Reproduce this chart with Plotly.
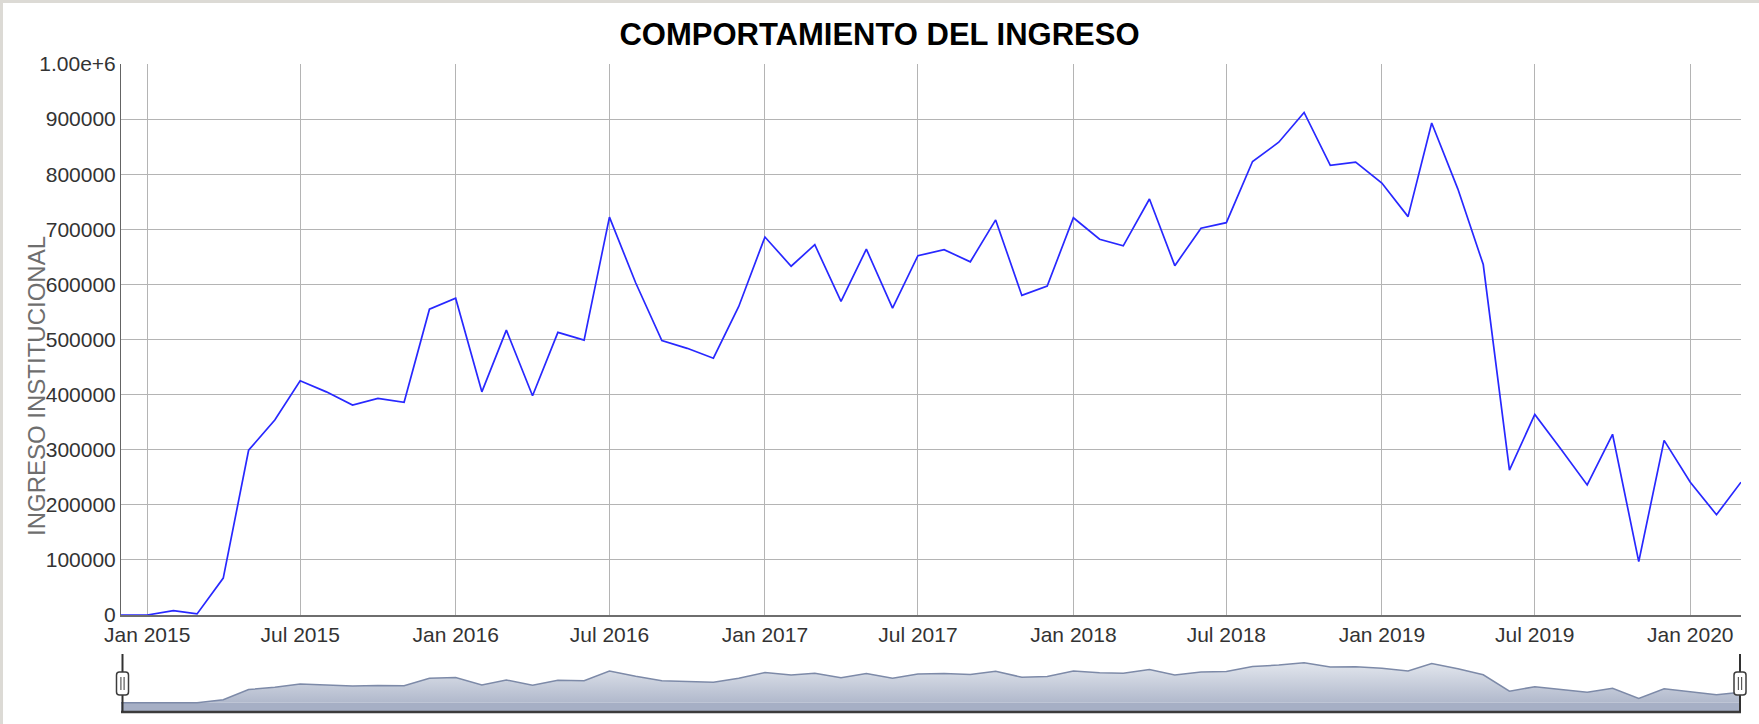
import pandas as pd
import plotly.graph_objects as go

# ---------------- data ----------------
months = pd.date_range("2014-12-01", "2020-03-01", freq="MS")
ingreso = [
    0, 0, 8000, 2000, 67000, 299000, 354000, 425000, 405000, 381000, 393000, 386000,
    555000, 575000, 405000, 517000, 398000, 513000, 499000, 722000, 603000, 498000,
    484000, 466000, 560000, 686000, 633000, 672000, 569000, 664000, 557000, 652000,
    663000, 641000, 717000, 580000, 597000, 721000, 682000, 670000, 755000, 634000,
    702000, 712000, 823000, 858000, 912000, 816000, 822000, 784000, 723000, 893000,
    773000, 636000, 263000, 364000, 301000, 236000, 328000, 97000, 317000, 241000,
    182000, 241000,
]
y_tickvals = [0, 100000, 200000, 300000, 400000, 500000, 600000, 700000, 800000, 900000, 1000000]
y_ticktext = ["0", "100000", "200000", "300000", "400000", "500000", "600000",
              "700000", "800000", "900000", "1.00e+6"]
title_text = "COMPORTAMIENTO DEL INGRESO"
ylabel_text = "INGRESO INSTITUCIONAL"

# ---------------- geometry (pixels) ----------------
W, H = 1759, 724
L, R, T, B = 121, 18, 64, 12
PW, PH = W - L - R, H - T - B


def px(x):
    return (x - L) / PW


def py(y):
    return (H - B - y) / PH


main_bottom = 615
mini_top = 654

FONT = "Arial, 'Liberation Sans', sans-serif"

fig = go.Figure()

fig.add_trace(go.Scatter(
    x=months, y=ingreso, mode="lines",
    line=dict(color="rgb(40,40,255)", width=1.7),
    xaxis="x", yaxis="y", showlegend=False, hoverinfo="x+y",
))

vmax = max(ingreso)
lo, hi = -0.232 * vmax, 1.217 * vmax
fig.add_trace(go.Scatter(
    x=months, y=ingreso, mode="lines", fill="tozeroy",
    line=dict(color="rgb(125,138,168)", width=1.5),
    fillgradient=dict(type="vertical", start=lo, stop=vmax,
                      colorscale=[[0, "rgb(165,174,196)"], [1, "rgb(226,230,237)"]]),
    xaxis="x2", yaxis="y2", showlegend=False, hoverinfo="skip",
))

xr = [months[0], months[-1]]

shapes = []
# area below zero in the range selector
shapes.append(dict(type="rect", xref="x2", yref="y2", x0=months[0], x1=months[-1],
                   y0=lo, y1=0, fillcolor="rgb(166,175,197)", line=dict(width=0), layer="below"))
# bottom border of the range selector
shapes.append(dict(type="line", xref="paper", yref="paper", x0=0, x1=1, y0=py(712), y1=py(712),
                   line=dict(color="rgb(60,60,60)", width=2.5)))
# handles
for hx in (122.5, 1740):
    shapes.append(dict(type="line", xref="paper", yref="paper", x0=px(hx), x1=px(hx),
                       y0=py(mini_top), y1=py(712), line=dict(color="rgb(50,50,50)", width=2)))
    x0, x1, y0, y1, r = hx - 6, hx + 6, 672, 695, 3
    path = (f"M {px(x0 + r)} {py(y0)} L {px(x1 - r)} {py(y0)} Q {px(x1)} {py(y0)} {px(x1)} {py(y0 + r)} "
            f"L {px(x1)} {py(y1 - r)} Q {px(x1)} {py(y1)} {px(x1 - r)} {py(y1)} "
            f"L {px(x0 + r)} {py(y1)} Q {px(x0)} {py(y1)} {px(x0)} {py(y1 - r)} "
            f"L {px(x0)} {py(y0 + r)} Q {px(x0)} {py(y0)} {px(x0 + r)} {py(y0)} Z")
    shapes.append(dict(type="path", xref="paper", yref="paper", path=path,
                       fillcolor="white", line=dict(color="rgb(60,60,60)", width=1.5)))
    for dx in (-1.6, 1.6):
        shapes.append(dict(type="line", xref="paper", yref="paper", x0=px(hx + dx), x1=px(hx + dx),
                           y0=py(677), y1=py(690), line=dict(color="rgb(90,90,90)", width=1.2)))
# grey window frame (top and left)
shapes.append(dict(type="rect", xref="paper", yref="paper", x0=px(0), x1=px(W), y0=py(3), y1=py(0),
                   fillcolor="rgb(220,218,213)", line=dict(width=0)))
shapes.append(dict(type="rect", xref="paper", yref="paper", x0=px(0), x1=px(3), y0=py(H), y1=py(0),
                   fillcolor="rgb(220,218,213)", line=dict(width=0)))

GRID = "rgb(180,180,180)"

fig.update_layout(
    width=W, height=H, autosize=False,
    margin=dict(l=L, r=R, t=T, b=B, autoexpand=False),
    paper_bgcolor="white", plot_bgcolor="white",
    font=dict(family=FONT, color="rgb(51,51,51)"),
    title=dict(text=f"<b>{title_text}</b>", x=0.5, xref="container", xanchor="center",
               y=1 - 34 / H, yref="container", yanchor="middle",
               font=dict(size=31, color="black", family=FONT)),
    xaxis=dict(domain=[0, 1], anchor="y", range=xr, type="date", automargin=False,
               tick0="2015-01-01", dtick="M6", tickformat="%b %Y",
               showgrid=True, gridcolor=GRID, gridwidth=1,
               showline=True, linecolor="rgb(110,110,110)", linewidth=2,
               ticks="", tickfont=dict(size=21, color="rgb(51,51,51)"), zeroline=False),
    yaxis=dict(domain=[py(main_bottom), 1], anchor="x", range=[0, 1000000], automargin=False,
               tickvals=y_tickvals, ticktext=y_ticktext,
               showgrid=True, gridcolor=GRID, gridwidth=1,
               showline=True, linecolor="rgb(100,100,100)", linewidth=1,
               ticks="", tickfont=dict(size=21, color="rgb(51,51,51)"), zeroline=False),
    xaxis2=dict(domain=[0, 1], anchor="y2", range=xr, type="date", visible=False, automargin=False),
    yaxis2=dict(domain=[0, py(mini_top)], anchor="x2", range=[lo, hi], visible=False, automargin=False),
    shapes=shapes,
    annotations=[dict(text=ylabel_text, textangle=-90, xref="paper", yref="paper",
                      x=px(36), y=py(386), xanchor="center", yanchor="middle", showarrow=False,
                      font=dict(size=24, color="rgb(110,110,110)", family=FONT))],
)

fig.write_html(
    "out.html",
    config={"displayModeBar": False},
    post_script="document.body.style.margin='0';document.body.style.overflow='hidden';",
)
